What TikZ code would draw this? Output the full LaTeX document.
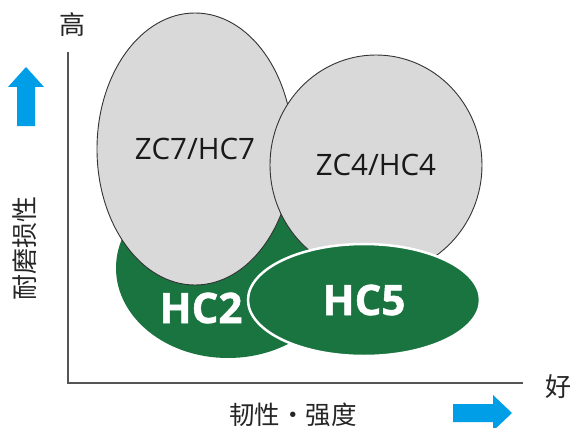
\documentclass[tikz,border=0pt]{standalone}
\usepackage{fontspec}
\setmainfont{Open Sans}
\newfontfamily\cjkfont{Noto Sans CJK SC}
\newfontfamily\heavyfont[BoldFeatures={FakeBold=1.2}]{Open Sans}
\usetikzlibrary{shapes.geometric}
\definecolor{grn}{RGB}{26,116,64}
\definecolor{gry}{RGB}{217,217,217}
\definecolor{blu}{RGB}{0,158,230}
\definecolor{axl}{RGB}{85,85,85}
\begin{document}
\begin{tikzpicture}[x=1pt,y=-1pt,
 grayell/.style={ellipse,draw=black!80,line width=0.9pt,fill=gry,inner sep=0pt},
 greenell/.style={ellipse,fill=grn,inner sep=0pt},
 lab/.style={font=\fontsize{29.5}{30}\selectfont,text=black!90},
 biglab/.style={font=\fontsize{42}{42}\selectfont\heavyfont\bfseries,text=white},
 cjk/.style={font=\fontsize{26}{26}\selectfont\cjkfont,text=black!85,inner sep=0pt},
 axisline/.style={draw=axl,line width=1.2pt},
 bluearrow/.style={fill=blu}]
\useasboundingbox (0,0) rectangle (576,428);
% ellipses
\node[greenell,minimum width=224pt,minimum height=180pt] (hc2) at (228,268) {};
\node[biglab] (hc2t) at (201,308) {HC2};
\node[grayell,minimum width=196pt,minimum height=272pt,lab] (zc7) at (195,149) {ZC7/HC7};
\node[grayell,minimum width=212pt,minimum height=220pt,lab] (zc4) at (376,165) {ZC4/HC4};
\node[greenell,draw=white,line width=2.5pt,minimum width=232pt,minimum height=112pt,biglab] (hc5) at (364,300) {HC5};
% axes
\coordinate (ytop) at (68,52);
\coordinate (origin) at (68,383);
\coordinate (xend) at (523,383);
\draw[axisline] (ytop) -- (origin) -- (xend);
% labels
\node[cjk] (hi) at (72,25) {高};
\node[cjk,rotate=90] (ylab) at (25,248) {耐磨损性};
\node[cjk] (good) at (558,387) {好};
\node[cjk,font=\fontsize{25.5}{26}\selectfont\cjkfont] (xlab) at (293,415) {韧性・强度};
% arrows
\fill[bluearrow] (26,67) -- (44,87) -- (35,87) -- (35,126) -- (17,126) -- (17,87) -- (8,87) -- cycle;
\fill[bluearrow] (512,413) -- (493,395) -- (493,404) -- (453,404) -- (453,422) -- (493,422) -- (493,431) -- cycle;
\end{tikzpicture}
\end{document}
